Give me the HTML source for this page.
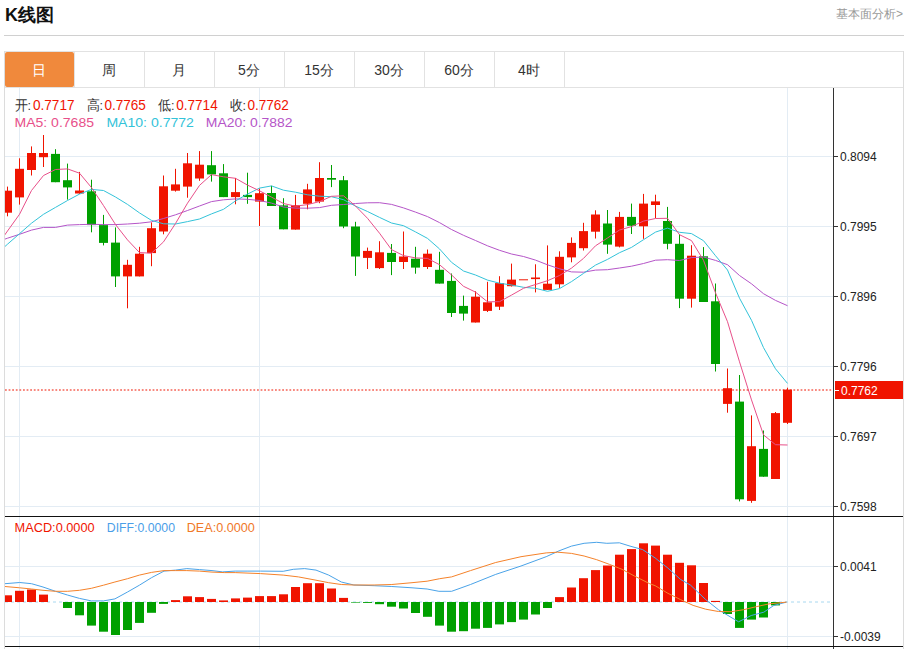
<!DOCTYPE html><html><head><meta charset="utf-8"><style>html,body{margin:0;padding:0;background:#fff;}svg{display:block;font-family:"Liberation Sans",sans-serif;}</style></head><body>
<svg width="911" height="649" viewBox="0 0 911 649">
<text x="5" y="21" font-size="18" font-weight="bold" fill="#111">K线图</text>
<text x="903" y="18" font-size="12" fill="#999" text-anchor="end">基本面分析&gt;</text>
<rect x="4" y="35" width="900" height="1" fill="#d0d0d0"/>
<rect x="4" y="51" width="900" height="1" fill="#e2e2e2"/>
<rect x="4" y="87" width="900" height="1" fill="#e2e2e2"/>
<rect x="4" y="51" width="1" height="598" fill="#dcdcdc"/>
<rect x="903" y="51" width="1" height="598" fill="#dcdcdc"/>
<rect x="5" y="52" width="69" height="35" rx="2" fill="#f0893c"/>
<text x="39" y="75" font-size="14" fill="#fff" text-anchor="middle">日</text>
<rect x="74" y="52" width="1" height="35" fill="#e2e2e2"/>
<text x="109" y="75" font-size="14" fill="#333" text-anchor="middle">周</text>
<rect x="144" y="52" width="1" height="35" fill="#e2e2e2"/>
<text x="179" y="75" font-size="14" fill="#333" text-anchor="middle">月</text>
<rect x="214" y="52" width="1" height="35" fill="#e2e2e2"/>
<text x="249" y="75" font-size="14" fill="#333" text-anchor="middle">5分</text>
<rect x="284" y="52" width="1" height="35" fill="#e2e2e2"/>
<text x="319" y="75" font-size="14" fill="#333" text-anchor="middle">15分</text>
<rect x="354" y="52" width="1" height="35" fill="#e2e2e2"/>
<text x="389" y="75" font-size="14" fill="#333" text-anchor="middle">30分</text>
<rect x="424" y="52" width="1" height="35" fill="#e2e2e2"/>
<text x="459" y="75" font-size="14" fill="#333" text-anchor="middle">60分</text>
<rect x="494" y="52" width="1" height="35" fill="#e2e2e2"/>
<text x="529" y="75" font-size="14" fill="#333" text-anchor="middle">4时</text>
<rect x="564" y="52" width="1" height="35" fill="#e2e2e2"/>
<rect x="5" y="156" width="828" height="1" fill="#e3ecf4"/>
<rect x="5" y="226" width="828" height="1" fill="#e3ecf4"/>
<rect x="5" y="296" width="828" height="1" fill="#e3ecf4"/>
<rect x="5" y="366" width="828" height="1" fill="#e3ecf4"/>
<rect x="5" y="436" width="828" height="1" fill="#e3ecf4"/>
<rect x="5" y="506" width="828" height="1" fill="#e3ecf4"/>
<rect x="5" y="566" width="828" height="1" fill="#e3ecf4"/>
<rect x="5" y="636" width="828" height="1" fill="#e3ecf4"/>
<rect x="19" y="88" width="1" height="561" fill="#e3ecf4"/>
<rect x="259" y="88" width="1" height="561" fill="#e3ecf4"/>
<rect x="787" y="88" width="1" height="561" fill="#e3ecf4"/>
<rect x="833" y="88" width="1" height="561" fill="#333"/>
<rect x="5" y="516" width="898" height="1" fill="#111"/>
<rect x="5" y="646" width="898" height="1" fill="#111"/>
<rect x="833" y="156" width="5" height="1" fill="#333"/>
<text x="840" y="160.5" font-size="12" fill="#222">0.8094</text>
<rect x="833" y="226" width="5" height="1" fill="#333"/>
<text x="840" y="230.5" font-size="12" fill="#222">0.7995</text>
<rect x="833" y="296" width="5" height="1" fill="#333"/>
<text x="840" y="300.5" font-size="12" fill="#222">0.7896</text>
<rect x="833" y="366" width="5" height="1" fill="#333"/>
<text x="840" y="370.5" font-size="12" fill="#222">0.7796</text>
<rect x="833" y="436" width="5" height="1" fill="#333"/>
<text x="840" y="440.5" font-size="12" fill="#222">0.7697</text>
<rect x="833" y="506" width="5" height="1" fill="#333"/>
<text x="840" y="510.5" font-size="12" fill="#222">0.7598</text>
<rect x="833" y="566" width="5" height="1" fill="#333"/>
<text x="840" y="570.5" font-size="12" fill="#222">0.0041</text>
<rect x="833" y="636" width="5" height="1" fill="#333"/>
<text x="840" y="640.5" font-size="12" fill="#222">-0.0039</text>
<defs><clipPath id="cp"><rect x="5" y="88" width="828" height="428"/></clipPath><clipPath id="cm"><rect x="5" y="517" width="828" height="129"/></clipPath></defs>
<g clip-path="url(#cp)">
<rect x="7" y="186.6" width="1" height="29.7" fill="#f01400"/>
<rect x="3.0" y="190.7" width="9" height="22.0" fill="#f01400"/>
<rect x="19" y="158.3" width="1" height="46.3" fill="#f01400"/>
<rect x="15.0" y="168.8" width="9" height="28.6" fill="#f01400"/>
<rect x="31" y="146.4" width="1" height="29.1" fill="#f01400"/>
<rect x="27.0" y="153.0" width="9" height="17.0" fill="#f01400"/>
<rect x="43" y="135.0" width="1" height="32.0" fill="#f01400"/>
<rect x="39.0" y="153.0" width="9" height="4.2" fill="#f01400"/>
<rect x="55" y="149.2" width="1" height="33.0" fill="#00a000"/>
<rect x="51.0" y="153.9" width="9" height="28.3" fill="#00a000"/>
<rect x="67" y="163.6" width="1" height="36.0" fill="#00a000"/>
<rect x="63.0" y="180.2" width="9" height="7.2" fill="#00a000"/>
<rect x="79" y="171.9" width="1" height="22.1" fill="#f01400"/>
<rect x="75.0" y="190.5" width="9" height="3.0" fill="#f01400"/>
<rect x="91" y="179.7" width="1" height="52.6" fill="#00a000"/>
<rect x="87.0" y="191.3" width="9" height="33.8" fill="#00a000"/>
<rect x="103" y="214.9" width="1" height="30.5" fill="#00a000"/>
<rect x="99.0" y="225.1" width="9" height="17.8" fill="#00a000"/>
<rect x="115" y="227.4" width="1" height="59.6" fill="#00a000"/>
<rect x="111.0" y="242.6" width="9" height="33.8" fill="#00a000"/>
<rect x="127" y="259.8" width="1" height="48.5" fill="#f01400"/>
<rect x="123.0" y="264.8" width="9" height="11.6" fill="#f01400"/>
<rect x="139" y="246.8" width="1" height="29.6" fill="#f01400"/>
<rect x="135.0" y="253.7" width="9" height="22.7" fill="#f01400"/>
<rect x="151" y="222.4" width="1" height="43.8" fill="#f01400"/>
<rect x="147.0" y="228.2" width="9" height="24.9" fill="#f01400"/>
<rect x="163" y="175.5" width="1" height="58.8" fill="#f01400"/>
<rect x="159.0" y="186.3" width="9" height="45.2" fill="#f01400"/>
<rect x="175" y="168.8" width="1" height="22.8" fill="#f01400"/>
<rect x="171.0" y="184.4" width="9" height="6.3" fill="#f01400"/>
<rect x="187" y="153.0" width="1" height="44.7" fill="#f01400"/>
<rect x="183.0" y="163.3" width="9" height="23.3" fill="#f01400"/>
<rect x="199" y="151.1" width="1" height="29.7" fill="#f01400"/>
<rect x="195.0" y="164.7" width="9" height="13.8" fill="#f01400"/>
<rect x="211" y="151.1" width="1" height="30.5" fill="#00a000"/>
<rect x="207.0" y="165.2" width="9" height="9.2" fill="#00a000"/>
<rect x="223" y="164.1" width="1" height="33.0" fill="#00a000"/>
<rect x="219.0" y="173.3" width="9" height="23.8" fill="#00a000"/>
<rect x="235" y="178.0" width="1" height="26.3" fill="#f01400"/>
<rect x="231.0" y="192.1" width="9" height="5.0" fill="#f01400"/>
<rect x="247" y="172.7" width="1" height="31.1" fill="#00a000"/>
<rect x="243.0" y="194.9" width="9" height="2.2" fill="#00a000"/>
<rect x="259" y="188.5" width="1" height="37.5" fill="#f01400"/>
<rect x="255.0" y="193.2" width="9" height="8.4" fill="#f01400"/>
<rect x="271" y="185.8" width="1" height="20.2" fill="#00a000"/>
<rect x="267.0" y="193.0" width="9" height="13.0" fill="#00a000"/>
<rect x="283" y="198.2" width="1" height="31.1" fill="#00a000"/>
<rect x="279.0" y="205.4" width="9" height="23.9" fill="#00a000"/>
<rect x="295" y="194.9" width="1" height="34.7" fill="#f01400"/>
<rect x="291.0" y="205.2" width="9" height="24.4" fill="#f01400"/>
<rect x="307" y="183.8" width="1" height="25.5" fill="#f01400"/>
<rect x="303.0" y="189.4" width="9" height="14.4" fill="#f01400"/>
<rect x="319" y="162.2" width="1" height="41.0" fill="#f01400"/>
<rect x="315.0" y="178.0" width="9" height="23.6" fill="#f01400"/>
<rect x="331" y="165.0" width="1" height="22.1" fill="#00a000"/>
<rect x="327.0" y="178.0" width="9" height="1.7" fill="#00a000"/>
<rect x="343" y="176.0" width="1" height="52.2" fill="#00a000"/>
<rect x="339.0" y="180.2" width="9" height="46.3" fill="#00a000"/>
<rect x="355" y="221.8" width="1" height="54.1" fill="#00a000"/>
<rect x="351.0" y="226.5" width="9" height="30.0" fill="#00a000"/>
<rect x="367" y="247.6" width="1" height="21.4" fill="#f01400"/>
<rect x="363.0" y="250.9" width="9" height="7.0" fill="#f01400"/>
<rect x="379" y="241.2" width="1" height="27.8" fill="#f01400"/>
<rect x="375.0" y="252.3" width="9" height="15.8" fill="#f01400"/>
<rect x="391" y="244.0" width="1" height="31.1" fill="#00a000"/>
<rect x="387.0" y="252.9" width="9" height="9.1" fill="#00a000"/>
<rect x="403" y="231.5" width="1" height="37.5" fill="#f01400"/>
<rect x="399.0" y="256.5" width="9" height="5.5" fill="#f01400"/>
<rect x="415" y="246.8" width="1" height="26.9" fill="#00a000"/>
<rect x="411.0" y="258.7" width="9" height="8.9" fill="#00a000"/>
<rect x="427" y="249.5" width="1" height="19.5" fill="#f01400"/>
<rect x="423.0" y="253.7" width="9" height="13.3" fill="#f01400"/>
<rect x="439" y="251.8" width="1" height="31.8" fill="#00a000"/>
<rect x="435.0" y="269.8" width="9" height="13.8" fill="#00a000"/>
<rect x="451" y="273.5" width="1" height="43.5" fill="#00a000"/>
<rect x="447.0" y="280.9" width="9" height="32.1" fill="#00a000"/>
<rect x="463" y="295.6" width="1" height="25.0" fill="#00a000"/>
<rect x="459.0" y="305.9" width="9" height="7.7" fill="#00a000"/>
<rect x="475" y="291.2" width="1" height="31.3" fill="#f01400"/>
<rect x="471.0" y="296.7" width="9" height="25.8" fill="#f01400"/>
<rect x="487" y="281.8" width="1" height="30.2" fill="#f01400"/>
<rect x="483.0" y="302.3" width="9" height="8.6" fill="#f01400"/>
<rect x="499" y="276.2" width="1" height="33.8" fill="#f01400"/>
<rect x="495.0" y="283.1" width="9" height="23.6" fill="#f01400"/>
<rect x="511" y="263.6" width="1" height="22.9" fill="#f01400"/>
<rect x="507.0" y="279.6" width="9" height="6.6" fill="#f01400"/>
<line x1="519.0" y1="279.8" x2="528.0" y2="279.8" stroke="#f01400" stroke-width="1"/>
<rect x="535" y="264.3" width="1" height="28.1" fill="#f01400"/>
<rect x="531.0" y="277.5" width="9" height="1.6" fill="#f01400"/>
<rect x="547" y="245.4" width="1" height="44.5" fill="#f01400"/>
<rect x="543.0" y="283.7" width="9" height="6.2" fill="#f01400"/>
<rect x="559" y="251.3" width="1" height="36.6" fill="#f01400"/>
<rect x="555.0" y="256.8" width="9" height="27.5" fill="#f01400"/>
<rect x="571" y="237.4" width="1" height="24.9" fill="#f01400"/>
<rect x="567.0" y="242.9" width="9" height="14.5" fill="#f01400"/>
<rect x="583" y="222.8" width="1" height="27.7" fill="#f01400"/>
<rect x="579.0" y="231.1" width="9" height="17.1" fill="#f01400"/>
<rect x="595" y="210.3" width="1" height="28.2" fill="#f01400"/>
<rect x="591.0" y="214.5" width="9" height="17.2" fill="#f01400"/>
<rect x="607" y="210.0" width="1" height="43.8" fill="#00a000"/>
<rect x="603.0" y="223.5" width="9" height="21.1" fill="#00a000"/>
<rect x="619" y="211.9" width="1" height="35.5" fill="#f01400"/>
<rect x="615.0" y="216.9" width="9" height="29.7" fill="#f01400"/>
<rect x="631" y="203.6" width="1" height="30.4" fill="#00a000"/>
<rect x="627.0" y="216.9" width="9" height="8.9" fill="#00a000"/>
<rect x="643" y="193.9" width="1" height="44.9" fill="#f01400"/>
<rect x="639.0" y="203.6" width="9" height="22.7" fill="#f01400"/>
<rect x="655" y="194.7" width="1" height="23.6" fill="#f01400"/>
<rect x="651.0" y="201.4" width="9" height="3.6" fill="#f01400"/>
<rect x="667" y="206.9" width="1" height="42.4" fill="#00a000"/>
<rect x="663.0" y="221.0" width="9" height="22.8" fill="#00a000"/>
<rect x="679" y="234.1" width="1" height="74.0" fill="#00a000"/>
<rect x="675.0" y="243.8" width="9" height="54.9" fill="#00a000"/>
<rect x="691" y="245.2" width="1" height="62.4" fill="#f01400"/>
<rect x="687.0" y="255.7" width="9" height="43.0" fill="#f01400"/>
<rect x="703" y="247.1" width="1" height="54.9" fill="#00a000"/>
<rect x="699.0" y="256.3" width="9" height="45.7" fill="#00a000"/>
<rect x="715" y="283.5" width="1" height="88.0" fill="#00a000"/>
<rect x="711.0" y="301.3" width="9" height="62.7" fill="#00a000"/>
<rect x="727" y="368.5" width="1" height="44.2" fill="#f01400"/>
<rect x="723.0" y="388.2" width="9" height="15.7" fill="#f01400"/>
<rect x="739" y="375.0" width="1" height="126.4" fill="#00a000"/>
<rect x="735.0" y="401.6" width="9" height="97.7" fill="#00a000"/>
<rect x="751" y="415.4" width="1" height="87.4" fill="#f01400"/>
<rect x="747.0" y="446.2" width="9" height="54.7" fill="#f01400"/>
<rect x="763" y="430.5" width="1" height="46.2" fill="#00a000"/>
<rect x="759.0" y="448.9" width="9" height="27.8" fill="#00a000"/>
<rect x="775" y="412.0" width="1" height="67.0" fill="#f01400"/>
<rect x="771.0" y="413.1" width="9" height="65.9" fill="#f01400"/>
<rect x="787" y="387.7" width="1" height="36.3" fill="#f01400"/>
<rect x="783.0" y="389.6" width="9" height="33.2" fill="#f01400"/>
<path d="M-4.5,242.5 L7.5,238.2 L19.5,234.3 L31.5,230.1 L43.5,227.4 L55.5,227.4 L67.5,225.1 L79.5,224.6 L91.5,224.3 L103.5,224.6 L115.5,224.6 L127.5,224.0 L139.5,223.2 L151.5,221.8 L163.5,218.5 L175.5,214.8 L187.5,210.5 L199.5,206.0 L211.5,201.6 L223.5,199.8 L235.5,198.9 L247.5,199.3 L259.5,200.5 L271.5,203.1 L283.5,207.0 L295.5,208.1 L307.5,208.2 L319.5,207.6 L331.5,205.3 L343.5,204.5 L355.5,203.5 L367.5,202.8 L379.5,202.7 L391.5,204.4 L403.5,207.9 L415.5,212.1 L427.5,216.6 L439.5,222.6 L451.5,229.5 L463.5,235.3 L475.5,240.5 L487.5,245.8 L499.5,250.3 L511.5,254.0 L523.5,256.5 L535.5,260.1 L547.5,264.8 L559.5,268.8 L571.5,271.9 L583.5,272.2 L595.5,270.1 L607.5,269.7 L619.5,268.0 L631.5,266.2 L643.5,263.5 L655.5,260.2 L667.5,259.7 L679.5,260.5 L691.5,257.6 L703.5,257.0 L715.5,260.4 L727.5,264.7 L739.5,275.5 L751.5,283.8 L763.5,293.7 L775.5,300.4 L787.5,305.7" fill="none" stroke="#b555c8" stroke-width="1"/>
<path d="M-4.5,255.0 L7.5,244.2 L19.5,233.7 L31.5,223.2 L43.5,214.3 L55.5,207.4 L67.5,200.5 L79.5,194.1 L91.5,189.4 L103.5,190.5 L115.5,197.0 L127.5,204.4 L139.5,212.9 L151.5,220.4 L163.5,223.8 L175.5,224.0 L187.5,221.6 L199.5,219.0 L211.5,213.9 L223.5,209.3 L235.5,200.9 L247.5,194.1 L259.5,188.1 L271.5,185.9 L283.5,190.2 L295.5,192.2 L307.5,194.8 L319.5,196.2 L331.5,196.7 L343.5,199.7 L355.5,206.1 L367.5,211.5 L379.5,217.4 L391.5,223.0 L403.5,225.7 L415.5,231.9 L427.5,238.4 L439.5,248.9 L451.5,262.3 L463.5,271.0 L475.5,275.0 L487.5,280.1 L499.5,283.2 L511.5,285.0 L523.5,287.3 L535.5,288.3 L547.5,291.3 L559.5,288.6 L571.5,281.6 L583.5,273.4 L595.5,265.1 L607.5,259.4 L619.5,252.7 L631.5,247.4 L643.5,239.7 L655.5,232.1 L667.5,228.1 L679.5,232.3 L691.5,233.6 L703.5,240.7 L715.5,255.7 L727.5,270.0 L739.5,298.2 L751.5,320.3 L763.5,347.6 L775.5,368.8 L787.5,383.4" fill="none" stroke="#33c3d9" stroke-width="1"/>
<path d="M-4.5,248.0 L7.5,231.0 L19.5,214.3 L31.5,190.5 L43.5,175.5 L55.5,169.5 L67.5,168.9 L79.5,173.2 L91.5,187.6 L103.5,205.6 L115.5,224.5 L127.5,239.9 L139.5,252.6 L151.5,253.2 L163.5,241.9 L175.5,223.5 L187.5,203.2 L199.5,185.4 L211.5,174.6 L223.5,176.8 L235.5,178.3 L247.5,185.1 L259.5,190.8 L271.5,197.1 L283.5,203.5 L295.5,206.2 L307.5,204.6 L319.5,201.6 L331.5,196.3 L343.5,195.8 L355.5,206.0 L367.5,218.3 L379.5,233.2 L391.5,249.6 L403.5,255.6 L415.5,257.9 L427.5,258.4 L439.5,264.7 L451.5,274.9 L463.5,286.3 L475.5,292.1 L487.5,301.8 L499.5,301.7 L511.5,295.1 L523.5,288.3 L535.5,284.5 L547.5,280.7 L559.5,275.5 L571.5,268.1 L583.5,258.4 L595.5,245.8 L607.5,238.0 L619.5,230.0 L631.5,226.6 L643.5,221.1 L655.5,218.5 L667.5,218.3 L679.5,234.7 L691.5,240.6 L703.5,260.3 L715.5,292.8 L727.5,321.7 L739.5,361.8 L751.5,399.9 L763.5,434.9 L775.5,444.7 L787.5,445.0" fill="none" stroke="#e8508a" stroke-width="1"/>
</g>
<line x1="5" y1="390" x2="833" y2="390" stroke="#f01400" stroke-width="1" stroke-dasharray="1.8,1.8"/>
<rect x="835" y="381" width="68" height="18" fill="#f01400"/>
<rect x="834" y="390" width="5" height="1" fill="#fff"/>
<text x="841" y="394.5" font-size="12" fill="#fff">0.7762</text>
<g clip-path="url(#cm)">
<line x1="5" y1="602" x2="833" y2="602" stroke="#a8d8f0" stroke-width="1" stroke-dasharray="3,3"/>
<rect x="3.0" y="595.3" width="9" height="6.7" fill="#f01400"/>
<rect x="15.0" y="590.8" width="9" height="11.2" fill="#f01400"/>
<rect x="27.0" y="589.5" width="9" height="12.5" fill="#f01400"/>
<rect x="39.0" y="594.6" width="9" height="7.4" fill="#f01400"/>
<rect x="63.0" y="602" width="9" height="6.0" fill="#00a000"/>
<rect x="75.0" y="602" width="9" height="13.3" fill="#00a000"/>
<rect x="87.0" y="602" width="9" height="23.6" fill="#00a000"/>
<rect x="99.0" y="602" width="9" height="29.7" fill="#00a000"/>
<rect x="111.0" y="602" width="9" height="33.0" fill="#00a000"/>
<rect x="123.0" y="602" width="9" height="28.0" fill="#00a000"/>
<rect x="135.0" y="602" width="9" height="20.9" fill="#00a000"/>
<rect x="147.0" y="602" width="9" height="10.8" fill="#00a000"/>
<rect x="159.0" y="602" width="9" height="1.9" fill="#00a000"/>
<rect x="171.0" y="600.1" width="9" height="1.9" fill="#f01400"/>
<rect x="183.0" y="596.3" width="9" height="5.7" fill="#f01400"/>
<rect x="195.0" y="597.1" width="9" height="4.9" fill="#f01400"/>
<rect x="207.0" y="598.9" width="9" height="3.1" fill="#f01400"/>
<rect x="219.0" y="600.4" width="9" height="1.6" fill="#f01400"/>
<rect x="231.0" y="598.4" width="9" height="3.6" fill="#f01400"/>
<rect x="243.0" y="597.6" width="9" height="4.4" fill="#f01400"/>
<rect x="255.0" y="596.1" width="9" height="5.9" fill="#f01400"/>
<rect x="267.0" y="596.1" width="9" height="5.9" fill="#f01400"/>
<rect x="279.0" y="594.3" width="9" height="7.7" fill="#f01400"/>
<rect x="291.0" y="587.0" width="9" height="15.0" fill="#f01400"/>
<rect x="303.0" y="583.2" width="9" height="18.8" fill="#f01400"/>
<rect x="315.0" y="583.2" width="9" height="18.8" fill="#f01400"/>
<rect x="327.0" y="588.5" width="9" height="13.5" fill="#f01400"/>
<rect x="339.0" y="597.9" width="9" height="4.1" fill="#f01400"/>
<rect x="351.0" y="602" width="9" height="0.6" fill="#00a000"/>
<rect x="363.0" y="602" width="9" height="0.9" fill="#00a000"/>
<rect x="375.0" y="602" width="9" height="2.2" fill="#00a000"/>
<rect x="387.0" y="602" width="9" height="4.7" fill="#00a000"/>
<rect x="399.0" y="602" width="9" height="6.5" fill="#00a000"/>
<rect x="411.0" y="602" width="9" height="11.0" fill="#00a000"/>
<rect x="423.0" y="602" width="9" height="14.8" fill="#00a000"/>
<rect x="435.0" y="602" width="9" height="23.6" fill="#00a000"/>
<rect x="447.0" y="602" width="9" height="29.7" fill="#00a000"/>
<rect x="459.0" y="602" width="9" height="29.2" fill="#00a000"/>
<rect x="471.0" y="602" width="9" height="26.7" fill="#00a000"/>
<rect x="483.0" y="602" width="9" height="25.9" fill="#00a000"/>
<rect x="495.0" y="602" width="9" height="22.4" fill="#00a000"/>
<rect x="507.0" y="602" width="9" height="20.1" fill="#00a000"/>
<rect x="519.0" y="602" width="9" height="17.6" fill="#00a000"/>
<rect x="531.0" y="602" width="9" height="12.5" fill="#00a000"/>
<rect x="543.0" y="602" width="9" height="6.0" fill="#00a000"/>
<rect x="555.0" y="597.1" width="9" height="4.9" fill="#f01400"/>
<rect x="567.0" y="587.5" width="9" height="14.5" fill="#f01400"/>
<rect x="579.0" y="578.2" width="9" height="23.8" fill="#f01400"/>
<rect x="591.0" y="570.1" width="9" height="31.9" fill="#f01400"/>
<rect x="603.0" y="565.5" width="9" height="36.5" fill="#f01400"/>
<rect x="615.0" y="554.7" width="9" height="47.3" fill="#f01400"/>
<rect x="627.0" y="549.1" width="9" height="52.9" fill="#f01400"/>
<rect x="639.0" y="543.3" width="9" height="58.7" fill="#f01400"/>
<rect x="651.0" y="545.6" width="9" height="56.4" fill="#f01400"/>
<rect x="663.0" y="554.7" width="9" height="47.3" fill="#f01400"/>
<rect x="675.0" y="562.8" width="9" height="39.2" fill="#f01400"/>
<rect x="687.0" y="565.3" width="9" height="36.7" fill="#f01400"/>
<rect x="699.0" y="583.0" width="9" height="19.0" fill="#f01400"/>
<rect x="711.0" y="600.9" width="9" height="1.1" fill="#f01400"/>
<rect x="723.0" y="602" width="9" height="12.0" fill="#00a000"/>
<rect x="735.0" y="602" width="9" height="25.9" fill="#00a000"/>
<rect x="747.0" y="602" width="9" height="17.6" fill="#00a000"/>
<rect x="759.0" y="602" width="9" height="15.5" fill="#00a000"/>
<rect x="771.0" y="602" width="9" height="3.4" fill="#00a000"/>
<path d="M-4.5,585.0 L5.0,583.7 L19.7,582.5 L31.5,583.7 L43.0,587.0 L55.5,591.3 L67.4,595.0 L79.5,598.4 L91.4,600.9 L103.5,600.9 L114.9,598.9 L127.5,592.0 L139.4,585.2 L151.5,577.7 L164.0,571.1 L175.5,570.1 L186.8,568.6 L199.4,569.6 L212.0,570.6 L222.6,571.9 L235.2,571.1 L247.9,571.1 L260.5,571.1 L283.2,571.3 L293.3,569.3 L304.7,568.6 L316.0,570.1 L328.7,575.1 L341.3,582.0 L353.9,585.0 L374.1,585.7 L391.8,586.5 L412.0,587.8 L427.1,589.0 L438.9,591.3 L451.6,591.3 L470.5,584.5 L495.7,574.4 L521.0,566.0 L546.2,556.7 L558.9,550.9 L571.5,546.1 L584.1,543.3 L596.7,542.3 L606.8,543.3 L619.4,542.8 L630.0,546.1 L642.6,549.6 L655.2,558.0 L667.9,568.1 L680.5,579.4 L690.6,585.2 L705.7,599.6 L718.4,609.7 L731.0,617.3 L738.6,621.8 L751.2,615.5 L763.8,612.2 L773.9,605.4 L786.5,602.1" fill="none" stroke="#4aa3e8" stroke-width="1"/>
<path d="M-4.5,585.5 L5.0,586.5 L19.7,587.8 L31.5,589.0 L43.0,590.3 L55.5,591.3 L67.4,591.3 L79.5,590.3 L91.4,588.3 L103.5,585.2 L114.9,582.0 L127.5,578.7 L139.4,575.1 L151.5,572.4 L164.0,570.6 L175.5,570.6 L186.8,570.6 L199.4,571.1 L212.0,572.1 L224.7,572.6 L235.2,572.6 L260.5,573.6 L283.2,575.1 L298.4,576.9 L316.0,580.2 L328.7,582.7 L341.3,584.5 L353.9,585.0 L374.1,585.0 L391.8,584.5 L412.0,582.7 L427.1,581.2 L439.7,578.7 L451.6,576.9 L470.5,570.6 L495.7,562.5 L521.0,556.7 L546.2,552.9 L557.6,552.2 L571.5,553.4 L584.1,556.0 L596.7,559.7 L609.3,564.3 L622.0,569.3 L634.6,576.1 L649.7,583.7 L655.2,585.7 L667.9,593.3 L680.5,599.6 L693.1,605.4 L705.7,609.2 L718.4,611.5 L731.0,611.7 L743.6,609.7 L756.2,606.7 L768.9,603.9 L786.5,602.1" fill="none" stroke="#f5822a" stroke-width="1"/>
</g>
<text x="14.6" y="109.5" font-size="13.5" fill="#333" textLength="16.5" lengthAdjust="spacingAndGlyphs">开:</text>
<text x="33.0" y="110" font-size="14.5" fill="#f01400" textLength="41.5" lengthAdjust="spacingAndGlyphs">0.7717</text>
<text x="86.5" y="109.5" font-size="13.5" fill="#333" textLength="16.5" lengthAdjust="spacingAndGlyphs">高:</text>
<text x="104.4" y="110" font-size="14.5" fill="#f01400" textLength="41.5" lengthAdjust="spacingAndGlyphs">0.7765</text>
<text x="157.9" y="109.5" font-size="13.5" fill="#333" textLength="16.5" lengthAdjust="spacingAndGlyphs">低:</text>
<text x="176.2" y="110" font-size="14.5" fill="#f01400" textLength="41.5" lengthAdjust="spacingAndGlyphs">0.7714</text>
<text x="229.6" y="109.5" font-size="13.5" fill="#333" textLength="16.5" lengthAdjust="spacingAndGlyphs">收:</text>
<text x="247.4" y="110" font-size="14.5" fill="#f01400" textLength="41.5" lengthAdjust="spacingAndGlyphs">0.7762</text>
<text x="14.5" y="127" font-size="13.5" fill="#e8508a" textLength="79.5" lengthAdjust="spacingAndGlyphs">MA5: 0.7685</text>
<text x="106.4" y="127" font-size="13.5" fill="#33c3d9" textLength="87.5" lengthAdjust="spacingAndGlyphs">MA10: 0.7772</text>
<text x="205.8" y="127" font-size="13.5" fill="#b555c8" textLength="86.8" lengthAdjust="spacingAndGlyphs">MA20: 0.7882</text>
<text x="14.6" y="532" font-size="12.3" fill="#f01400" textLength="80" lengthAdjust="spacingAndGlyphs">MACD:0.0000</text>
<text x="106.8" y="532" font-size="12.3" fill="#4a9ee8" textLength="68.2" lengthAdjust="spacingAndGlyphs">DIFF:0.0000</text>
<text x="186.7" y="532" font-size="12.3" fill="#f07828" textLength="68.2" lengthAdjust="spacingAndGlyphs">DEA:0.0000</text>
</svg></body></html>
